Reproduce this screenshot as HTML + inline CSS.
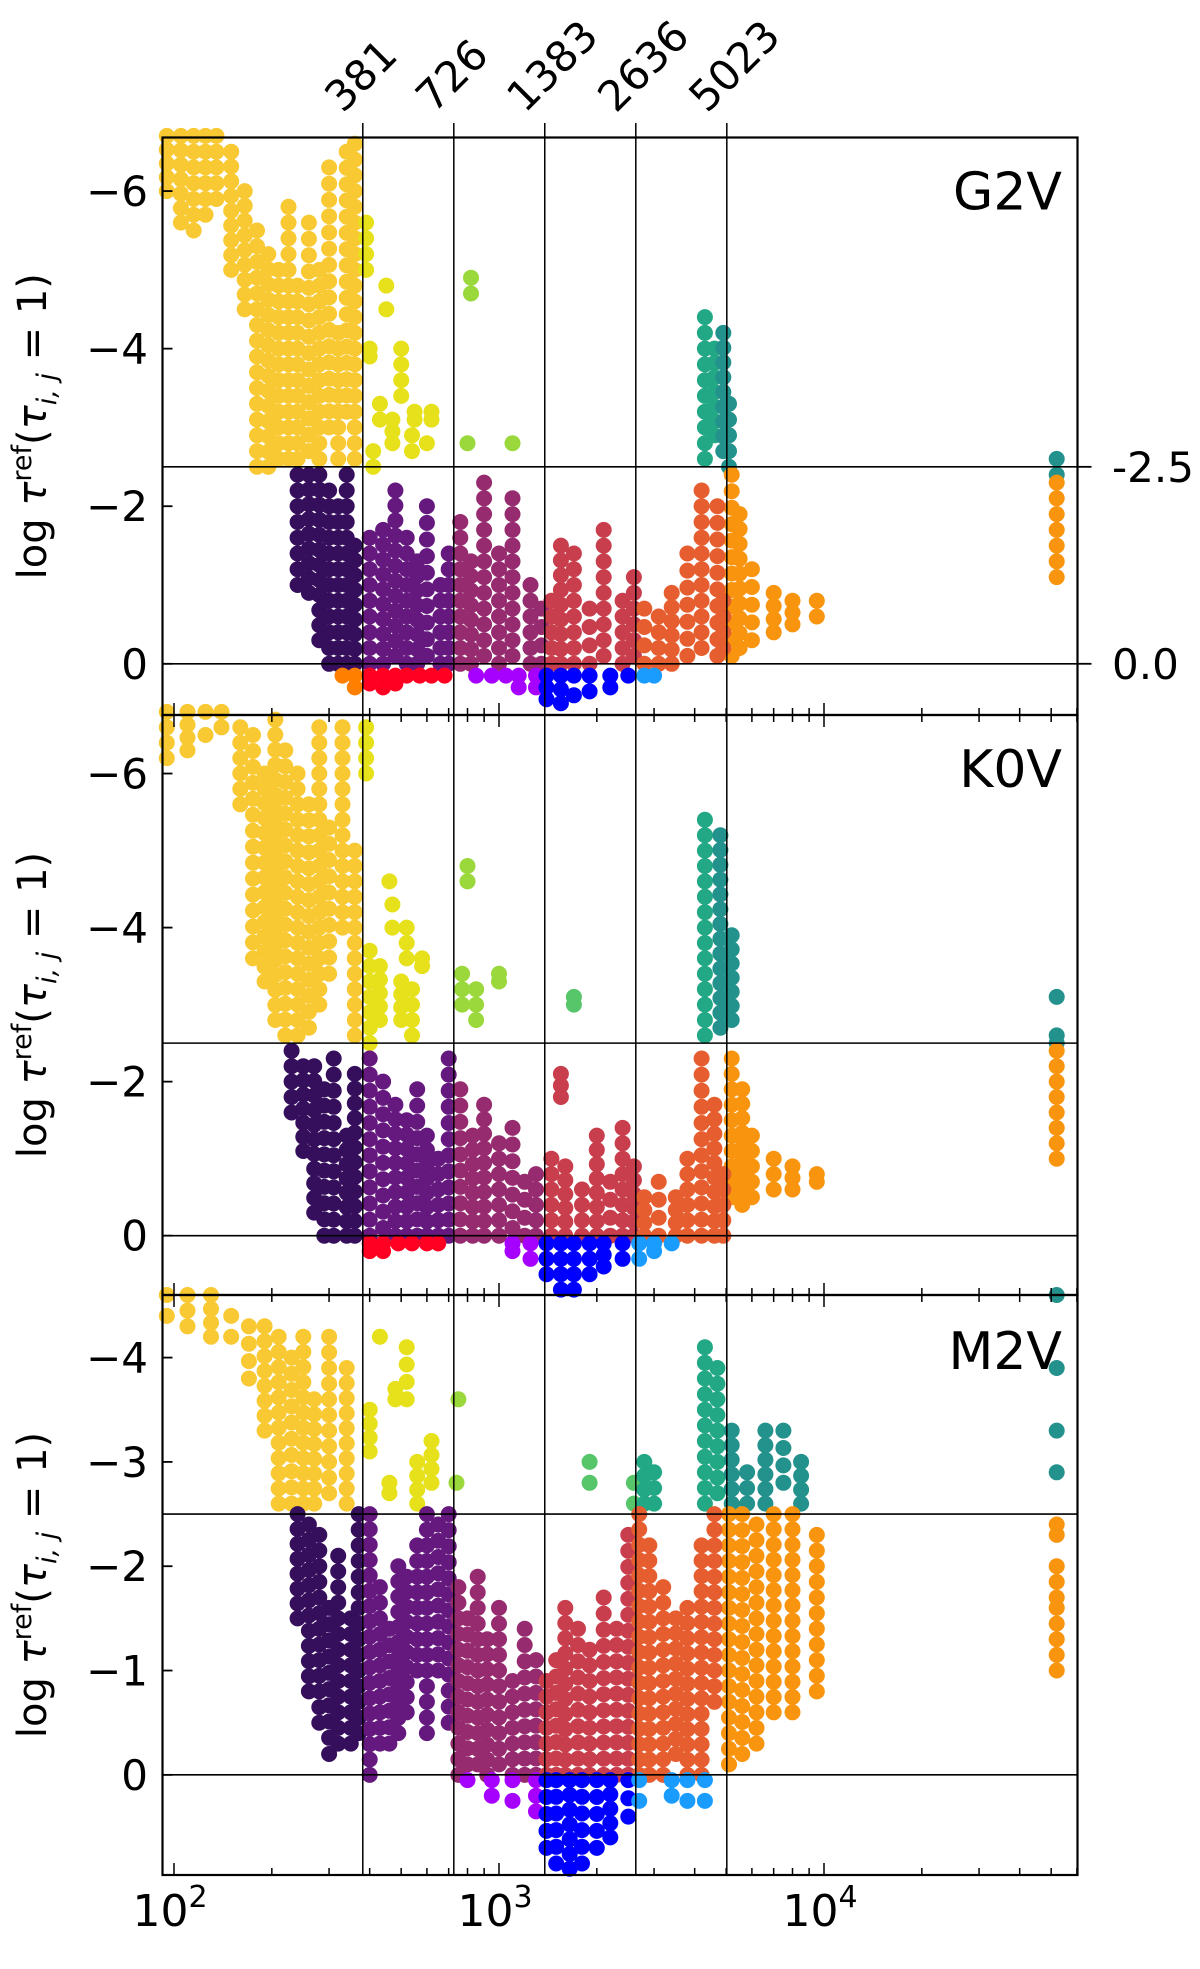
<!DOCTYPE html>
<html><head><meta charset="utf-8"><style>
html,body{margin:0;padding:0;background:#fff;}
svg{display:block;font-family:"DejaVu Sans","Liberation Sans",sans-serif;}
</style></head><body>
<svg id="chart" width="1200" height="1969" viewBox="0 0 1200 1969" xmlns="http://www.w3.org/2000/svg">
<g id="dots"></g>
<g id="axes"></g>
</svg>
<script>
// ---- data: columns of points [wavelength, logTauTop, logTauBottom] ----
const colorNames = ["gold","yellow","limeyellow","green","tealgreen","teal","orange","darkpurple","purple","magenta","crimson","redorange","belowOrange","belowRed","belowViolet","belowBlue","belowLightBlue"];
const colorValues = ["#f8c932","#e6e11b","#9ad83c","#57c66b","#22a884","#23918c","#f8940e","#350e5c","#65197f","#962b6f","#c83e4c","#e65e2f","#ff8000","#ff0022","#a600ff","#0000ff","#1a9cff"];
const panelNames = ["G2V","K0V","M2V"];
const boundaryWavelengths = [381,726,1383,2636,5023];
const yTicksP1 = [-6,-4,-2,0];
const yTicksP2 = [-6,-4,-2,0];
const yTicksP3 = [-4,-3,-2,-1,0];
const rightTickValues = [-2.5,0.0];
const rightTickLabels = ["-2.5","0.0"];
const xMajorTicks = [100,1000,10000];
const xMajorLabels = ["2","3","4"];

const g2v = {
 gold:[[95,-6.7,-6.0],[105,-6.7,-5.6],[115,-6.7,-5.5],[125,-6.7,-5.7],[135,-6.7,-5.9],[150,-6.5,-5.0],[165,-6.0,-4.5],[180,-5.5,-2.5],[195,-5.2,-2.5],[210,-5.0,-2.6],[225,-5.8,-2.6],[240,-4.8,-2.6],[260,-5.6,-2.7],[280,-5.0,-2.6],[300,-6.3,-3.0],[320,-4.2,-2.6],[340,-6.5,-3.2],[360,-6.6,-2.6]],
 yellow:[[390,-5.6,-5.0],[400,-4.0,-3.9],[410,-2.7,-2.5],[430,-3.3,-3.1],[450,-4.8,-4.5],[470,-3.1,-2.8],[500,-4.0,-3.4],[550,-3.2,-3.1],[540,-2.9,-2.7],[620,-3.2,-3.1],[600,-2.8,-2.7]],
 limeyellow:[[820,-4.9,-4.7],[800,-2.8,-2.8],[1100,-2.8,-2.8]],
 green:[],
 tealgreen:[[4300,-4.4,-2.6],[4600,-4.0,-2.9]],
 teal:[[4900,-4.2,-2.7],[5100,-3.3,-2.5],[52000,-2.6,-2.4]],
 orange:[[5200,-2.4,-0.1],[5500,-1.9,-0.2],[6000,-1.2,-0.3],[7000,-0.9,-0.4],[8000,-0.8,-0.5],[9500,-0.8,-0.6],[52000,-2.3,-1.1]],
 darkpurple:[[240,-2.4,-1.0],[260,-2.4,-0.9],[280,-2.4,-0.3],[300,-2.2,0],[320,-2.0,0],[340,-2.4,0],[360,-1.5,0]],
 purple:[[400,-1.6,0],[440,-1.7,0],[480,-2.2,-0.1],[520,-1.6,0],[560,-1.3,0],[600,-2.0,-0.1],[660,-1.0,0],[700,-1.4,0]],
 magenta:[[760,-1.8,0],[820,-1.3,0],[900,-2.3,-0.1],[1000,-1.4,0],[1100,-2.1,-0.1],[1250,-1.0,0],[1350,-0.7,0]],
 crimson:[[1450,-0.8,0],[1550,-1.5,0],[1700,-1.4,0],[1900,-0.7,0],[2100,-1.7,-0.1],[2400,-0.8,0],[2600,-1.1,-0.1]],
 redorange:[[2800,-0.7,0],[3100,-0.6,0],[3400,-0.9,0],[3800,-1.4,-0.1],[4200,-2.2,-0.2],[4700,-2.0,-0.1],[4900,-0.8,-0.2]],
 belowOrange:[[330,0.15,0.15],[360,0.15,0.3]],
 belowRed:[[400,0.15,0.25],[440,0.15,0.3],[480,0.15,0.25],[520,0.15,0.15],[570,0.15,0.15],[620,0.15,0.15],[680,0.15,0.15]],
 belowViolet:[[850,0.15,0.15],[950,0.15,0.15],[1050,0.15,0.15],[1150,0.15,0.3],[1300,0.15,0.3]],
 belowBlue:[[1400,0.15,0.45],[1550,0.15,0.5],[1700,0.15,0.4],[1900,0.15,0.35],[2200,0.15,0.3],[2500,0.15,0.2]],
 belowLightBlue:[[2800,0.15,0.15],[3000,0.15,0.15]]
};
const k0v = {
 gold:[[95,-6.8,-6.2],[110,-6.8,-6.3],[125,-6.8,-6.5],[140,-6.8,-6.6],[160,-6.6,-5.6],[175,-6.5,-3.6],[190,-6.0,-3.3],[205,-6.7,-2.8],[220,-6.3,-2.6],[240,-6.0,-2.6],[260,-5.6,-2.7],[280,-6.6,-3.0],[300,-5.3,-3.4],[330,-6.6,-4.0],[360,-5.0,-2.6]],
 yellow:[[390,-6.6,-6.0],[400,-3.7,-2.5],[430,-3.5,-2.8],[460,-4.6,-4.5],[470,-4.3,-4.0],[500,-3.3,-2.8],[520,-4.0,-3.6],[540,-3.2,-2.6],[580,-3.6,-3.5]],
 limeyellow:[[800,-4.8,-4.6],[770,-3.4,-3.0],[850,-3.2,-2.8],[1000,-3.4,-3.3]],
 green:[[1700,-3.1,-3.0]],
 tealgreen:[[4300,-5.4,-2.6]],
 teal:[[4800,-5.2,-2.7],[5200,-3.9,-2.8],[52000,-3.1,-3.1],[52000,-2.6,-2.5]],
 orange:[[5200,-2.3,-0.5],[5600,-1.9,-0.4],[6000,-1.3,-0.5],[7000,-1.0,-0.6],[8000,-0.9,-0.6],[9500,-0.8,-0.7],[52000,-2.4,-1.0]],
 darkpurple:[[230,-2.4,-1.6],[250,-2.2,-1.1],[270,-2.2,-0.3],[290,-1.9,0],[310,-2.3,0],[340,-1.3,0],[360,-2.1,0]],
 purple:[[400,-2.3,0],[440,-2.0,-0.1],[480,-1.7,0],[520,-1.5,0],[560,-1.9,0],[600,-1.3,0],[650,-1.0,0],[700,-2.3,0]],
 magenta:[[760,-1.9,0],[830,-1.3,0],[900,-1.7,0],[1000,-1.2,0],[1100,-1.4,-0.1],[1200,-0.7,0],[1300,-0.8,0]],
 crimson:[[1450,-1.0,0],[1550,-2.1,-1.8],[1600,-0.9,0],[1800,-0.6,0],[2000,-1.3,0],[2200,-0.7,0],[2400,-1.4,0],[2600,-0.9,0]],
 redorange:[[2800,-0.5,0],[3100,-0.7,0],[3500,-0.5,0],[3800,-1.0,0],[4200,-2.3,0],[4600,-1.7,0],[4900,-0.8,0]],
 belowOrange:[],
 belowRed:[[400,0.1,0.2],[440,0.1,0.2],[490,0.1,0.1],[540,0.1,0.1],[600,0.1,0.1],[650,0.1,0.1]],
 belowViolet:[[1100,0.1,0.2],[1250,0.1,0.3]],
 belowBlue:[[1400,0.1,0.5],[1550,0.1,0.7],[1700,0.1,0.7],[1900,0.1,0.5],[2100,0.1,0.4],[2400,0.1,0.3]],
 belowLightBlue:[[2700,0.1,0.3],[3000,0.1,0.2],[3400,0.1,0.1]]
};
const m2v = {
 gold:[[95,-4.6,-4.4],[110,-4.6,-4.3],[130,-4.6,-4.2],[150,-4.4,-4.2],[170,-4.3,-3.8],[190,-4.3,-3.3],[210,-4.2,-2.6],[230,-4.0,-2.6],[250,-4.2,-2.6],[270,-3.6,-2.6],[300,-4.2,-2.7],[340,-3.9,-2.6]],
 yellow:[[400,-3.5,-3.1],[430,-4.2,-4.2],[460,-2.8,-2.7],[480,-3.7,-3.6],[520,-4.1,-3.6],[560,-3.0,-2.6],[620,-3.2,-2.8]],
 limeyellow:[[750,-3.6,-3.6],[740,-2.8,-2.8]],
 green:[[1900,-3.0,-2.8],[2600,-2.8,-2.6]],
 tealgreen:[[2800,-3.0,-2.6],[3000,-2.9,-2.6],[4300,-4.1,-2.6],[4700,-3.9,-2.7]],
 teal:[[5200,-3.3,-2.6],[5800,-2.9,-2.6],[6600,-3.3,-2.6],[7500,-3.3,-2.8],[8500,-3.0,-2.6],[52000,-4.6,-4.6],[52000,-3.9,-3.9],[52000,-3.3,-3.3],[52000,-2.9,-2.9]],
 orange:[[5100,-2.5,-0.1],[5600,-2.5,-0.2],[6200,-2.4,-0.3],[7000,-2.5,-0.6],[8000,-2.5,-0.6],[9500,-2.3,-0.8],[52000,-2.4,-2.3],[52000,-2.0,-1.7],[52000,-1.6,-1.0]],
 darkpurple:[[240,-2.5,-1.5],[260,-2.4,-0.8],[280,-2.3,-0.5],[300,-1.6,-0.2],[320,-2.1,-0.3],[350,-1.5,-0.3],[370,-2.5,-0.4]],
 purple:[[400,-2.5,0],[430,-1.8,-0.3],[460,-1.4,-0.3],[490,-2.0,-0.4],[520,-1.9,-0.6],[560,-2.2,-1.0],[600,-2.5,-0.4],[650,-2.4,-1.0],[700,-2.5,-0.5]],
 magenta:[[750,-1.8,0],[800,-1.5,-0.1],[860,-1.9,-0.1],[920,-1.3,0],[1000,-1.6,-0.1],[1100,-0.9,0],[1200,-1.4,0],[1300,-1.1,0]],
 crimson:[[1400,-0.9,0],[1500,-1.1,0],[1600,-1.6,0],[1750,-1.4,0],[1900,-1.2,0],[2100,-1.7,0],[2300,-1.4,0],[2500,-2.3,0]],
 redorange:[[2700,-2.5,0],[2900,-2.2,0],[3200,-1.8,0],[3500,-1.5,-0.2],[3800,-1.6,0],[4200,-2.2,0],[4600,-2.5,-0.7]],
 belowOrange:[],
 belowRed:[],
 belowViolet:[[800,0.05,0.1],[950,0.05,0.2],[1100,0.05,0.25],[1300,0.05,0.35]],
 belowBlue:[[1400,0.05,0.7],[1500,0.05,0.85],[1650,0.05,0.9],[1800,0.05,0.85],[2000,0.05,0.7],[2200,0.05,0.6],[2500,0.05,0.4]],
 belowLightBlue:[[2700,0.05,0.25],[3400,0.05,0.2],[3800,0.05,0.25],[4300,0.05,0.25]]
};

// ---- layout ----
const NS="http://www.w3.org/2000/svg";
const X0=162.5, X1=1077.5;
const panels=[
 {data:g2v,top:137.5,bottom:715,vTop:-6.68,vBot:0.65,step:0.2,ticks:yTicksP1},
 {data:k0v,top:715,bottom:1295,vTop:-6.76,vBot:0.77,step:0.2,ticks:yTicksP2},
 {data:m2v,top:1295,bottom:1875,vTop:-4.6,vBot:0.96,step:0.15,ticks:yTicksP3}
];
function xs(w){return 174+(Math.log10(w)-2)*325;}
function ys(p,v){return p.top+(v-p.vTop)/(p.vBot-p.vTop)*(p.bottom-p.top);}
function mk(tag,attrs,parent){const e=document.createElementNS(NS,tag);for(const k in attrs)e.setAttribute(k,attrs[k]);parent.appendChild(e);return e;}

const dotsG=document.getElementById('dots');
const axesG=document.getElementById('axes');

panels.forEach((p,pi)=>{
 const g=mk('g',{},dotsG);
 
 
 colorNames.forEach((cn,ci)=>{
  const cols=p.data[cn]||[];
  cols.forEach(c=>{
   const x=xs(c[0]);
   const n=Math.max(0,Math.round((c[2]-c[1])/p.step));
   for(let k=0;k<=n;k++){
    const v=c[1]+(n?k*(c[2]-c[1])/n:0);
    const d=mk('circle',{cx:x.toFixed(1),cy:ys(p,v).toFixed(1),r:8,fill:colorValues[ci]},g);
    
    
   }
  });
 });
});

panels.forEach((p,pi)=>{
 const f=mk('rect',{x:X0,y:p.top,width:X1-X0,height:p.bottom-p.top,fill:'none',stroke:'#000','stroke-width':2.2},axesG);
 
 
 [-2.5,0].forEach(v=>{
  const l=mk('line',{x1:X0,x2:X1,y1:ys(p,v),y2:ys(p,v),stroke:'#000','stroke-width':1.6},axesG);
  
  
 });
 p.ticks.forEach(t=>{
  const y=ys(p,t);
  mk('line',{x1:X0,x2:X0+10,y1:y,y2:y,stroke:'#000','stroke-width':1.8},axesG);
  const tx=mk('text',{x:148,y:y+15,'text-anchor':'end','font-size':42},axesG);
  tx.textContent=t<0?'\u2212'+(-t):String(t);
  
  
 });
 for(let d=2;d<=4;d++){
  for(let m=1;m<=9;m++){
   const w=m*Math.pow(10,d);
   const x=xs(w);
   if(x<X0||x>X1)continue;
   const len=m===1?12:7;
   mk('line',{x1:x,x2:x,y1:p.bottom,y2:p.bottom-len,stroke:'#000','stroke-width':1.5},axesG);
   if(pi>0) mk('line',{x1:x,x2:x,y1:p.top,y2:p.top+len,stroke:'#000','stroke-width':1.5},axesG);
  }
 }
 const lab=mk('text',{x:1062,y:p.top+(pi===2?74:72),'text-anchor':'end','font-size':52},axesG);
 lab.textContent=panelNames[pi];
 
 
 const yl=mk('text',{x:0,y:0,'text-anchor':'middle','font-size':40,transform:`translate(46,${(p.top+p.bottom)/2}) rotate(-90)`},axesG);
 yl.innerHTML='log <tspan font-style="italic">τ</tspan><tspan dy="-15" font-size="27">ref</tspan><tspan dy="15">(</tspan><tspan font-style="italic">τ</tspan><tspan dy="10" font-size="27" font-style="italic">i, j</tspan><tspan dy="-10"> = 1)</tspan>';
 
 
});

rightTickValues.forEach((v,i)=>{
 const p=panels[0];const y=ys(p,v);
 mk('line',{x1:X1,x2:X1+14,y1:y,y2:y,stroke:'#000','stroke-width':1.8},axesG);
 const t=mk('text',{x:1112,y:y+15,'font-size':42},axesG);
 t.textContent=rightTickLabels[i];
 
 
});

boundaryWavelengths.forEach(w=>{
 const x=xs(w);
 const l=mk('line',{x1:x,x2:x,y1:123,y2:1875,stroke:'#000','stroke-width':1.5},axesG);
 
 
 const t=mk('text',{x:0,y:0,'font-size':42,transform:`translate(${x-20},${114}) rotate(-45)`},axesG);
 t.textContent=String(w);
 
 
});

xMajorTicks.forEach((w,i)=>{
 const t=mk('text',{x:xs(w)-4,y:1926,'text-anchor':'middle','font-size':44},axesG);
 t.innerHTML='10<tspan dy="-19" font-size="30">'+xMajorLabels[i]+'</tspan>';
 
 
});
</script>
</body></html>
